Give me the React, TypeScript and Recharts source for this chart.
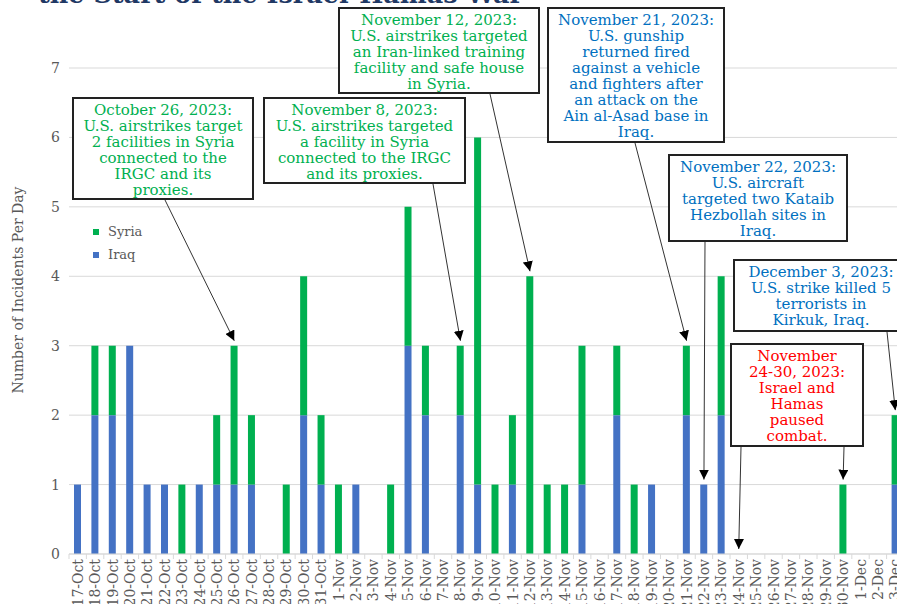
import { BarChart, Bar, XAxis, YAxis, CartesianGrid } from 'recharts';

const categories = [
  '17-Oct', '18-Oct', '19-Oct', '20-Oct', '21-Oct', '22-Oct', '23-Oct', '24-Oct', '25-Oct', '26-Oct',
  '27-Oct', '28-Oct', '29-Oct', '30-Oct', '31-Oct', '1-Nov', '2-Nov', '3-Nov', '4-Nov', '5-Nov',
  '6-Nov', '7-Nov', '8-Nov', '9-Nov', '10-Nov', '11-Nov', '12-Nov', '13-Nov', '14-Nov', '15-Nov',
  '16-Nov', '17-Nov', '18-Nov', '19-Nov', '20-Nov', '21-Nov', '22-Nov', '23-Nov', '24-Nov', '25-Nov',
  '26-Nov', '27-Nov', '28-Nov', '29-Nov', '30-Nov', '1-Dec', '2-Dec', '3-Dec',
];
const iraq = [
  1, 2, 2, 3, 1, 1, 0, 1, 1, 1,
  1, 0, 0, 2, 1, 0, 1, 0, 0, 3,
  2, 0, 2, 1, 0, 1, 0, 0, 0, 1,
  0, 2, 0, 1, 0, 2, 1, 2, 0, 0,
  0, 0, 0, 0, 0, 0, 0, 1,
];
const syria = [
  0, 1, 1, 0, 0, 0, 1, 0, 1, 2,
  1, 0, 1, 2, 1, 1, 0, 0, 1, 2,
  1, 0, 1, 5, 1, 1, 4, 1, 1, 2,
  0, 1, 1, 0, 0, 1, 0, 2, 0, 0,
  0, 0, 0, 0, 1, 0, 0, 1,
];
const yTicks = [0, 1, 2, 3, 4, 5, 6, 7];

const data = categories.map((day, i) => ({ day, iraq: iraq[i], syria: syria[i] }));

// layout
const CHART_W = 910;
const CHART_H = 660;
const M_TOP = 68;
const M_RIGHT = 6;
const Y_W = 69;
const X_H = 106;
const PLOT_W = CHART_W - M_RIGHT - Y_W;
const PLOT_H = CHART_H - M_TOP - X_H;
const BAND = PLOT_W / categories.length;

const GREEN = '#00B050';
const BLUE = '#4472C4';
const TEXT_BLUE = '#0070C0';
const GRAY = '#595959';
const GRID = '#d9d9d9';
const FONT = '"DejaVu Serif", serif';

// same mapping as the band / linear scales of the chart
const xAt = (day: string) => Y_W + (categories.indexOf(day) + 0.5) * BAND;
const yAt = (v: number) => M_TOP + PLOT_H * (1 - v / yTicks[yTicks.length - 1]);

interface Note {
  lines: string[];
  color: string;
  left: number;
  top: number;
  width: number;
  height: number;
  arrows: { fx: number; fy: number; day: string }[];
}

const notes: Note[] = [
  {
    lines: ['October 26, 2023:', 'U.S. airstrikes target', '2 facilities in Syria', 'connected to the', 'IRGC and its', 'proxies.'],
    color: GREEN, left: 72, top: 97, width: 182, height: 103,
    arrows: [{ fx: 165, fy: 200, day: '26-Oct' }],
  },
  {
    lines: ['November 8, 2023:', 'U.S. airstrikes targeted', 'a facility in Syria', 'connected to the IRGC', 'and its proxies.'],
    color: GREEN, left: 263, top: 97, width: 203, height: 87,
    arrows: [{ fx: 433, fy: 184, day: '8-Nov' }],
  },
  {
    lines: ['November 12, 2023:', 'U.S. airstrikes targeted', 'an Iran-linked training', 'facility and safe house', 'in Syria.'],
    color: GREEN, left: 338, top: 7, width: 202, height: 87,
    arrows: [{ fx: 490, fy: 94, day: '12-Nov' }],
  },
  {
    lines: ['November 21, 2023:', 'U.S. gunship', 'returned fired', 'against a vehicle', 'and fighters after', 'an attack on the', 'Ain al-Asad base in', 'Iraq.'],
    color: TEXT_BLUE, left: 547, top: 7, width: 178, height: 136,
    arrows: [{ fx: 635, fy: 143, day: '21-Nov' }],
  },
  {
    lines: ['November 22, 2023:', 'U.S. aircraft', 'targeted two Kataib', 'Hezbollah sites in', 'Iraq.'],
    color: TEXT_BLUE, left: 668, top: 154, width: 180, height: 88,
    arrows: [{ fx: 705, fy: 242, day: '22-Nov' }],
  },
  {
    lines: ['December 3, 2023:', 'U.S. strike killed 5', 'terrorists in', 'Kirkuk, Iraq.'],
    color: TEXT_BLUE, left: 733, top: 259, width: 176, height: 73,
    arrows: [{ fx: 887, fy: 332, day: '3-Dec' }],
  },
  {
    lines: ['November', '24-30, 2023:', 'Israel and', 'Hamas', 'paused', 'combat.'],
    color: '#FF0000', left: 730, top: 343, width: 134, height: 104,
    arrows: [
      { fx: 741, fy: 447, day: '24-Nov' },
      { fx: 844, fy: 447, day: '30-Nov' },
    ],
  },
];

const XTick = (props: any) => {
  const { x, y, payload } = props;
  return (
    <g transform={`translate(${x},${y})`}>
      <line x1={-BAND / 2} x2={-BAND / 2} y1={0} y2={5} stroke={GRID} />
      <text
        transform="rotate(-90)"
        x={-5}
        y={0}
        dy="0.36em"
        textAnchor="end"
        fill={GRAY}
        fontSize={14}
        fontFamily={FONT}
      >
        {payload.value}
      </text>
    </g>
  );
};

export default function App() {
  return (
    <div
      style={{
        position: 'absolute',
        left: 0,
        top: 0,
        width: 897,
        height: 604,
        overflow: 'hidden',
        background: '#fff',
        fontFamily: FONT,
      }}
    >
      <BarChart
        width={CHART_W}
        height={CHART_H}
        data={data}
        margin={{ top: M_TOP, right: M_RIGHT, left: 0, bottom: 0 }}
        barSize={7}
      >
        <CartesianGrid vertical={false} stroke={GRID} />
        <XAxis
          dataKey="day"
          interval={0}
          height={X_H}
          tickSize={0}
          tickMargin={0}
          tickLine={false}
          axisLine={{ stroke: GRID }}
          tick={<XTick />}
        />
        <YAxis
          domain={[0, 7]}
          ticks={yTicks}
          width={Y_W}
          axisLine={false}
          tickLine={false}
          tickSize={0}
          tickMargin={9}
          tick={{ fill: GRAY, fontSize: 14, fontFamily: FONT }}
        />
        <Bar dataKey="iraq" stackId="a" fill={BLUE} isAnimationActive={false} />
        <Bar dataKey="syria" stackId="a" fill={GREEN} isAnimationActive={false} />
      </BarChart>

      <svg
        width={897}
        height={604}
        style={{ position: 'absolute', left: 0, top: 0, pointerEvents: 'none' }}
      >
        <defs>
          <marker id="head" viewBox="0 0 10 10" refX="10" refY="5" markerWidth="10" markerHeight="10" orient="auto">
            <path d="M0,0 L10,5 L0,10 z" fill="#000" />
          </marker>
        </defs>
        <text x={38} y={3} fill="#1F3864" fontSize={25.5} fontWeight="bold" fontFamily={FONT}>
          the Start of the Israel-Hamas War
        </text>
        <text
          transform="translate(23,290) rotate(-90)"
          textAnchor="middle"
          fill={GRAY}
          fontSize={14}
          fontFamily={FONT}
        >
          Number of Incidents Per Day
        </text>
        <rect x={93} y={229} width={6} height={6} fill={GREEN} />
        <text x={108} y={236} fill={GRAY} fontSize={13} fontFamily={FONT}>Syria</text>
        <rect x={93} y={252} width={6} height={6} fill={BLUE} />
        <text x={108} y={259} fill={GRAY} fontSize={13} fontFamily={FONT}>Iraq</text>
        {notes.map((n, i) =>
          n.arrows.map((a, j) => {
            const idx = categories.indexOf(a.day);
            const tx = xAt(a.day);
            const ty = yAt(iraq[idx] + syria[idx]) - 5;
            return (
              <line
                key={`${i}-${j}`}
                x1={a.fx}
                y1={a.fy}
                x2={tx}
                y2={ty}
                stroke="#333"
                strokeWidth={1}
                markerEnd="url(#head)"
              />
            );
          })
        )}
      </svg>

      {notes.map((n, i) => (
        <div
          key={i}
          style={{
            position: 'absolute',
            left: n.left,
            top: n.top,
            width: n.width,
            height: n.height,
            boxSizing: 'border-box',
            border: '2px solid #222',
            background: '#fff',
            color: n.color,
            fontSize: 15,
            lineHeight: '16px',
            textAlign: 'center',
            paddingTop: 3,
            whiteSpace: 'nowrap',
            overflow: 'hidden',
          }}
        >
          {n.lines.map((l, k) => (
            <div key={k}>{l}</div>
          ))}
        </div>
      ))}
    </div>
  );
}
